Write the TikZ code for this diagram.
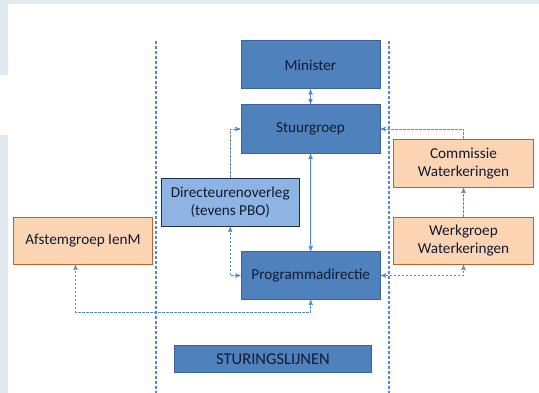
\documentclass[tikz,border=0pt]{standalone}
\usepackage{fontspec}
\setmainfont{Carlito}
\usepackage{tikz}
\usetikzlibrary{arrows,positioning,calc}
\definecolor{boxblue}{HTML}{4F81BD}
\definecolor{boxedge}{HTML}{3A649B}
\definecolor{lightblue}{HTML}{8DB4E2}
\definecolor{darkedge}{HTML}{1F2D4A}
\definecolor{boxorange}{HTML}{FBD4B4}
\definecolor{orangeedge}{HTML}{B8652E}
\definecolor{textdark}{HTML}{111B30}
\definecolor{linkblue}{HTML}{5A88C6}
\definecolor{stripgray}{HTML}{E1E9F1}

\begin{document}
\begin{tikzpicture}[x=1pt,y=-1pt,>=stealth',
  box/.style={line width=1pt,text=textdark,anchor=north west,inner sep=0pt,align=center,font=\fontsize{15.2}{18}\selectfont},
  main node/.style={box,draw=boxedge,fill=boxblue,minimum width=139pt,minimum height=48pt},
  side node/.style={box,draw=orangeedge,fill=boxorange,minimum width=140pt,minimum height=48pt},
  link/.style={linkblue,line width=0.9pt,dash pattern=on 2.5pt off 1.5pt},
  sepline/.style={linkblue,line width=1.3pt,dash pattern=on 3pt off 2pt}]

  \useasboundingbox (0,0) rectangle (539,393);
  \fill[white] (0,0) rectangle (539,393);
  \fill[stripgray] (0,0) rectangle (539,4);
  \fill[stripgray] (0,0) rectangle (8,75);
  \fill[stripgray] (0,135) rectangle (8,393);

  \draw[sepline] (156,41) -- (156,393);
  \draw[sepline] (389,41) -- (389,393);

  \node[main node] at (240.5,40.5) (minister) {Minister};
  \node[main node,minimum height=49pt] at (240.5,104) (stuur) {Stuurgroep};
  \node[main node,draw=darkedge,fill=lightblue,minimum width=138.5pt] at (160.5,178) (dir) {Directeurenoverleg\\(tevens PBO)};
  \node[main node,minimum width=139.5pt] at (240.5,251) (prog) {Programmadirectie};
  \node[side node] at (393,139) (comm) {Commissie\\Waterkeringen};
  \node[side node,minimum height=47pt] at (393,217) (werk) {Werkgroep\\Waterkeringen};
  \node[side node,minimum width=139pt,minimum height=47pt] at (13,217) (afst) {Afstemgroep IenM};
  \node[main node,minimum width=197pt,minimum height=27pt,font=\fontsize{16.5}{18}\selectfont] at (174,345) (sturing) {STURINGSLIJNEN};

  \draw[<->,linkblue,line width=0.9pt] (minister) -- (stuur);
  \draw[<->,linkblue,line width=0.9pt] (stuur) -- (prog);
  \draw[->,link] (dir.north) |- (stuur.west);
  \draw[<->,link] (dir.south) |- (prog.west);
  \draw[->,link] (comm.north) |- (stuur.east);
  \draw[->,link] (werk) -- (comm);
  \draw[<->,link] (werk.south) |- (prog.east);
  \draw[<->,link] ([xshift=-7.5pt]afst.south) |- ($(prog.south)+(0,12)$) -- (prog.south);
\end{tikzpicture}
\end{document}
